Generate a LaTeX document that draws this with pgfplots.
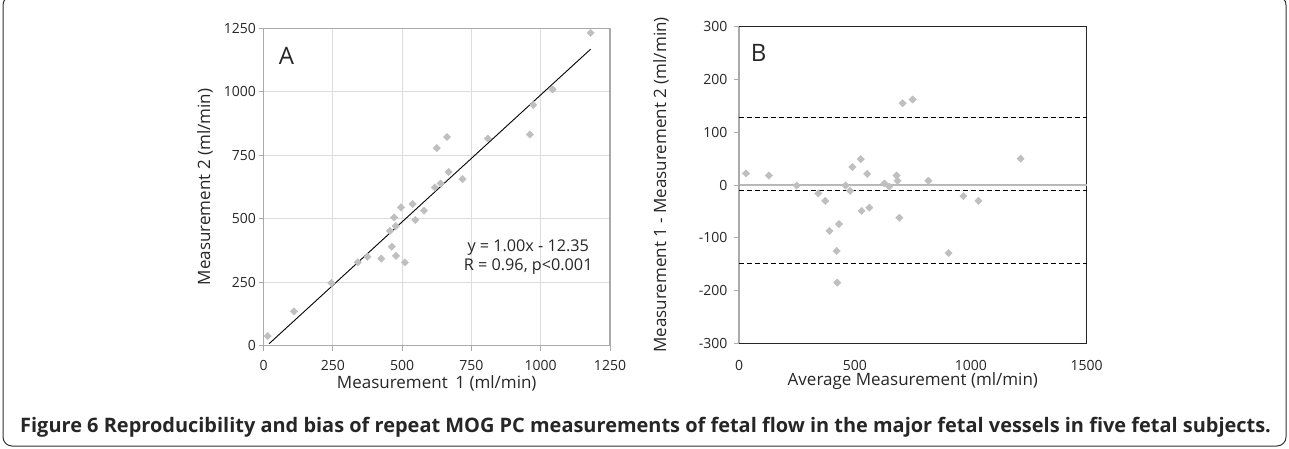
\documentclass[border=0pt]{standalone}
\usepackage{fontspec}
\setmainfont{Open Sans}
\usepackage{pgfplots}
\pgfplotsset{compat=1.18}
\definecolor{mk}{RGB}{191,191,191}
\definecolor{gridc}{RGB}{220,220,220}
\definecolor{axc}{RGB}{170,170,170}
\definecolor{zl}{RGB}{185,185,185}
\begin{document}
\begin{tikzpicture}[x=1pt,y=1pt]
\useasboundingbox (0,0) rectangle (1289,448);
\draw[black!80, line width=1pt, rounded corners=9pt] (3,2) rectangle (1286,452);
% Panel A
\begin{axis}[at={(263.5pt,102.3pt)}, anchor=south west, scale only axis,
  width=346.5pt, height=317.4pt,
  xmin=0, xmax=1250, ymin=0, ymax=1250,
  xtick={0,250,...,1250}, ytick={0,250,...,1250},
  grid=major, major grid style={gridc, line width=1pt},
  axis line style={axc, line width=1.2pt},
  tick style={axc, line width=1pt}, tick align=outside, major tick length=5pt,
  xtick pos=bottom, ytick pos=left,
  ticklabel style={font=\fontsize{14}{16}\selectfont, text=black!85},
  xticklabel style={yshift=-6pt},
  yticklabel style={xshift=1pt},
  /pgf/number format/assume math mode=true, /pgf/number format/1000 sep={},
  xlabel={Measurement\hspace{0.45em}1 (ml/min)},
  ylabel={Measurement 2 (ml/min)},
  label style={font=\fontsize{17}{20}\selectfont, text=black!85},
  xlabel style={at={(axis description cs:0.5,-0.1175)}, anchor=center},
  ylabel style={at={(axis description cs:-0.169,0.5)}, anchor=center},
  clip=false]
\addplot[only marks, mark=square*, mark size=2.6pt, mark options={rotate=45, fill=mk, draw=mk}] coordinates {
(15,38) (110,135) (245,247) (340,328) (375,350) (425,343) (456,452) (463,390)
(471,505) (477,471) (478,354) (496,545) (510,328) (538,558) (548,495) (579,532)
(618,623) (639,639) (625,778) (662,822) (668,684) (718,656) (809,816) (961,832)
(973,948) (1043,1009) (1180,1232)};
\addplot[black, line width=0.9pt] coordinates {(20,7.65) (1180,1167.65)};
\node[font=\fontsize{24}{28}\selectfont, text=black!85] at (axis cs:83,1141) {A};
\node[font=\fontsize{16.2}{19}\selectfont, text=black!85, align=center] at (axis cs:955,348) {y = 1.00x - 12.35\\R = 0.96, p<0.001};
\end{axis}
% Panel B
\begin{axis}[at={(739pt,104.7pt)}, anchor=south west, scale only axis,
  width=347.7pt, height=316.6pt,
  xmin=0, xmax=1500, ymin=-300, ymax=300,
  xtick={0,500,1000,1500}, ytick={-300,-200,...,300},
  yticklabels={-300,-200,-100,0,100,200,300},
  axis line style={black!85, line width=1pt},
  xtick style={draw=none},
  ytick style={axc, line width=1pt}, tick align=outside, major tick length=5pt,
  xtick pos=bottom, ytick pos=left,
  ticklabel style={font=\fontsize{14}{16}\selectfont, text=black!85},
  xticklabel style={yshift=-9pt},
  yticklabel style={xshift=-3pt},
  /pgf/number format/assume math mode=true, /pgf/number format/1000 sep={},
  xlabel={Average Measurement (ml/min)},
  ylabel={Measurement 1 - Measurement 2 (ml/min)},
  label style={font=\fontsize{17}{20}\selectfont, text=black!85},
  xlabel style={at={(axis description cs:0.5,-0.119)}, anchor=center},
  ylabel style={at={(axis description cs:-0.224,0.5)}, anchor=center},
  clip=false]
\addplot[zl, line width=2pt] coordinates {(0,0) (1500,0)};
\addplot[axc, line width=2pt] coordinates {(0,-300) (0,300)};
\addplot[black, line width=1pt, dash pattern=on 5pt off 3pt] coordinates {(0,128) (1500,128)};
\addplot[black, line width=1pt, dash pattern=on 5pt off 3pt] coordinates {(0,-10) (1500,-10)};
\addplot[black, line width=1pt, dash pattern=on 5pt off 3pt] coordinates {(0,-148) (1500,-148)};
\addplot[only marks, mark=square*, mark size=2.6pt, mark options={rotate=45, fill=mk, draw=mk}] coordinates {
(30,22) (129,18) (249,-1) (342,-16) (372,-30) (390,-87) (421,-125) (424,-185)
(431,-74) (460,-1) (479,-11) (489,34) (525,49) (529,-49) (553,21) (562,-43)
(627,3) (648,-3) (680,18) (684,8) (692,-62) (706,155) (749,162) (817,8)
(904,-129) (968,-21) (1033,-30) (1215,50)};
\node[font=\fontsize{24}{28}\selectfont, text=black!85] at (axis cs:85,251) {B};
\end{axis}
\node[anchor=base west, inner sep=0pt, text=black!85] at (20,16) {\fontsize{19.95}{23}\selectfont\bfseries Figure 6 Reproducibility and bias of repeat MOG PC measurements of fetal flow in the major fetal vessels in five fetal subjects.};
\end{tikzpicture}
\end{document}
